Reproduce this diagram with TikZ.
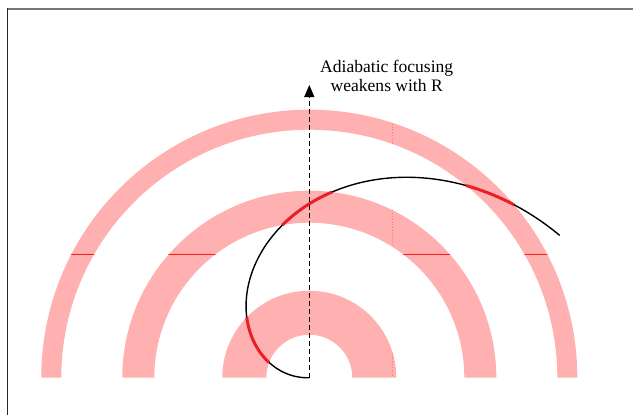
\documentclass[tikz,border=0pt]{standalone}
\usepackage{fontspec}
\setmainfont{Liberation Serif}
\usetikzlibrary{arrows.meta}
\definecolor{ringpink}{RGB}{255,176,176}
\definecolor{hotred}{RGB}{232,32,40}
\definecolor{framegray}{RGB}{120,120,120}
\tikzset{
  ringfill/.style={fill=ringpink, draw=none},
  orbit/.style={line width=1.4bp, black},
  hot/.style={line width=3bp, hotred},
  axisline/.style={line width=1.2bp, dash pattern=on 5bp off 3bp, -{Triangle[width=10bp,length=12bp]}},
  label/.style={font=\fontsize{17.6}{18.3}\selectfont, align=center, inner sep=0pt},
}
\newcommand{\ringpath}[2]{(C) ++(#2,0) arc[start angle=0,end angle=180,radius=#2] -- ++({#2-#1},0) arc[start angle=180,end angle=0,radius=#1] -- cycle}
\begin{document}
\begin{tikzpicture}[x=1bp,y=1bp]
\useasboundingbox (0,0) rectangle (633,415);
\coordinate (C) at (309.3,37.3);
\coordinate (tip) at (309.3,330);
% frame
\draw[framegray, line width=2bp] (7.3,406.3) -- (633,406.3);
\draw[black!85, line width=1.5bp] (7.3,407.3) -- (7.3,0);
% rings
\fill[ringfill] \ringpath{43}{87};
\fill[ringfill] \ringpath{155}{187};
\fill[ringfill] \ringpath{248}{268};
% faint markings inside the rings
\begin{scope}
  \clip \ringpath{43}{87} \ringpath{155}{187} \ringpath{248}{268};
  \draw[red!90, line width=0.8bp] (0,160.7) -- (633,160.7);
  \draw[red!55, line width=0.8bp, dotted] (392.7,0) -- (392.7,415);
\end{scope}
% trajectory
\draw[orbit, shift={(C)}] plot[domain=182:29.6, samples=200, smooth] ({1.89*(182-\x)*cos(\x)},{1.89*(182-\x)*sin(\x)});
\draw[hot, shift={(C)}] plot[domain=159.25:135.97, samples=40, smooth] ({1.89*(182-\x)*cos(\x)},{1.89*(182-\x)*sin(\x)});
\draw[hot, shift={(C)}] plot[domain=100:83.06, samples=40, smooth] ({1.89*(182-\x)*cos(\x)},{1.89*(182-\x)*sin(\x)});
\draw[hot, shift={(C)}] plot[domain=50.78:40.2, samples=40, smooth] ({1.89*(182-\x)*cos(\x)},{1.89*(182-\x)*sin(\x)});
% axis
\draw[axisline] (C) -- (tip);
\node[label] (lbl) at (386.7,339.2) {Adiabatic focusing\\weakens with R};
\end{tikzpicture}
\end{document}
